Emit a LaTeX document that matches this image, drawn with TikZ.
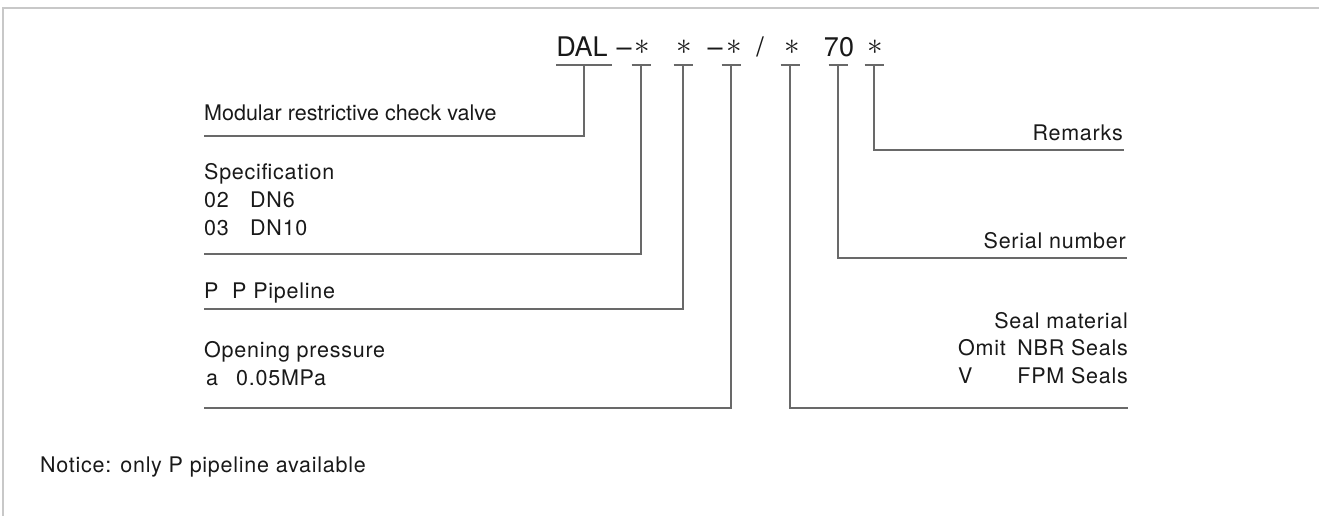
\documentclass[tikz,border=0pt]{standalone}
\usepackage{fontspec}
\usepackage{graphicx}
\setmainfont{TeX Gyre Heros}
\definecolor{txt}{RGB}{25,25,25}
\definecolor{lncol}{RGB}{105,105,105}
\definecolor{framecol}{RGB}{200,200,200}
\newcommand{\codestar}{\scalebox{1.25}{$\ast$}}
\begin{document}
\begin{tikzpicture}[x=1pt,y=-1pt,
  lbl/.style={inner sep=0pt, anchor=base west, text=txt,
    font=\fontsize{21.5}{24}\selectfont\addfontfeature{LetterSpace=3.5}},
  lblr/.style={lbl, anchor=base east},
  code/.style={inner sep=0pt, anchor=base, text=txt, font=\fontsize{27}{30}\selectfont},
  star/.style={inner sep=0pt, anchor=center, text=txt, font=\fontsize{24.88}{30}\selectfont},
  ln/.style={draw=lncol, line width=1.3pt}]
\useasboundingbox (0,0) rectangle (1319,516);
\draw[framecol, line width=2pt] (3,516) -- (3,8) -- (1319,8);

% code line
\node[code] (dal) at (582,57) {DAL};
\node[code] (d1) at (624,57) {\textendash};
\node[star] (s1) at (642,47) {\codestar};
\node[star] (s2) at (684,47) {\codestar};
\node[code] (d2) at (715,57) {\textendash};
\node[star] (s3) at (734,47) {\codestar};
\node[code] (sl) at (760,57) {/};
\node[star] (s4) at (792,47) {\codestar};
\node[code] (n70) at (839,57) {70};
\node[star] (s5) at (875,47) {\codestar};

% tops of connectors (underlines)
\coordinate (t1) at (584,65);
\coordinate (t2) at (641,65);
\coordinate (t3) at (683,65);
\coordinate (t4) at (731,65);
\coordinate (t5) at (790,65);
\coordinate (t6) at (838,65);
\coordinate (t7) at (874,65);
\draw[ln] ([xshift=-28pt]t1) -- ([xshift=28pt]t1);
\foreach \t in {t2,t3,t4,t5,t6,t7}
  \draw[ln] ([xshift=-9.5pt]\t) -- ([xshift=9.5pt]\t);

% ends of connectors
\coordinate (e1) at (204,136);
\coordinate (e2) at (204,254);
\coordinate (e3) at (204,309);
\coordinate (e4) at (204,408);
\coordinate (e5) at (1128,408);
\coordinate (e6) at (1127,258);
\coordinate (e7) at (1124,150);
\draw[ln] (t1) |- (e1);
\draw[ln] (t2) |- (e2);
\draw[ln] (t3) |- (e3);
\draw[ln] (t4) |- (e4);
\draw[ln] (t5) |- (e5);
\draw[ln] (t6) |- (e6);
\draw[ln] (t7) |- (e7);

% left labels
\node[lbl, font=\fontsize{21.5}{24}\selectfont] (mod) at (204,121) {Modular restrictive check valve};
\node[lbl] (spec) at (204,179) {Specification};
\node[lbl] (c02) at (204,207) {02};
\node[lbl] (dn6) at (250,207) {DN6};
\node[lbl] (c03) at (204,235) {03};
\node[lbl] (dn10) at (250,235) {DN10};
\node[lbl] (pp) at (204,298) {P};
\node[lbl] (ppl) at (232,298) {P Pipeline};
\node[lbl] (open) at (204,357) {Opening pressure};
\node[lbl] (ca) at (206,385) {a};
\node[lbl] (mpa) at (236,385) {0.05MPa};

% right labels
\node[lblr] (rem) at (1123,140) {Remarks};
\node[lblr] (ser) at (1126,248) {Serial number};
\node[lblr] (seal) at (1128,328) {Seal material};
\node[lbl] (omit) at (958,355) {Omit};
\node[lblr] (nbr) at (1128,355) {NBR Seals};
\node[lbl] (cv) at (958,383) {V};
\node[lblr] (fpm) at (1128,383) {FPM Seals};

% notice
\node[lbl] (note) at (40,472) {Notice: only P pipeline available};
\end{tikzpicture}
\end{document}
